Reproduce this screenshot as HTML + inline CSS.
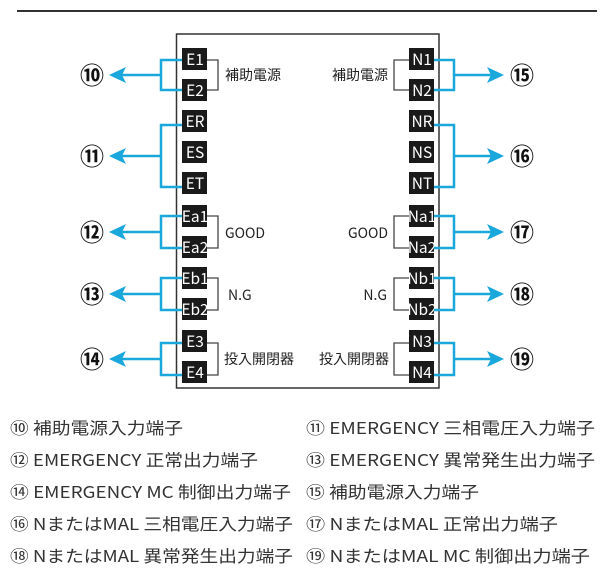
<!DOCTYPE html>
<html><head><meta charset="utf-8"><style>
html,body{margin:0;padding:0;background:#fff;}
svg{display:block;}
text{font-family:"Noto Sans CJK JP","Liberation Sans",sans-serif;}
.t{fill:#fff;font-size:15.5px;text-anchor:middle;font-family:"Liberation Sans",sans-serif;}
.l{fill:#222;font-size:14px;}
.c{fill:#111;font-size:24px;text-anchor:middle;font-weight:bold;}
.g{font-size:16.5px;fill:#333;}
</style></head><body>
<svg width="613" height="578" viewBox="0 0 613 578" xmlns="http://www.w3.org/2000/svg">
<line x1="17" y1="11" x2="597" y2="11" stroke="#333" stroke-width="2"/>
<rect x="176.5" y="34" width="262.5" height="354" fill="none" stroke="#333" stroke-width="1.5"/>
<g fill="#1a1a1a">
<rect x="182" y="48" width="25" height="22"/><rect x="182" y="79" width="25" height="22"/>
<rect x="182" y="110" width="25" height="22"/><rect x="182" y="141" width="25" height="22"/><rect x="182" y="172" width="25" height="22"/>
<rect x="182" y="205" width="25" height="22"/><rect x="182" y="236" width="25" height="22"/>
<rect x="182" y="267" width="25" height="22"/><rect x="182" y="298" width="25" height="22"/>
<rect x="182" y="330" width="25" height="22"/><rect x="182" y="361" width="25" height="22"/>
<rect x="409" y="48" width="25" height="22"/><rect x="409" y="79" width="25" height="22"/>
<rect x="409" y="110" width="25" height="22"/><rect x="409" y="141" width="25" height="22"/><rect x="409" y="172" width="25" height="22"/>
<rect x="409" y="205" width="25" height="22"/><rect x="409" y="236" width="25" height="22"/>
<rect x="409" y="267" width="25" height="22"/><rect x="409" y="298" width="25" height="22"/>
<rect x="409" y="330" width="25" height="22"/><rect x="409" y="361" width="25" height="22"/>
</g>
<g class="t">
<text x="195" y="65">E1</text><text x="195" y="96">E2</text><text x="195" y="127">ER</text><text x="195" y="158">ES</text><text x="195" y="189">ET</text>
<text x="195" y="222">Ea1</text><text x="195" y="253">Ea2</text><text x="195" y="284">Eb1</text><text x="195" y="315">Eb2</text>
<text x="195" y="347">E3</text><text x="195" y="378">E4</text>
<text x="422" y="65">N1</text><text x="422" y="96">N2</text><text x="422" y="127">NR</text><text x="422" y="158">NS</text><text x="422" y="189">NT</text>
<text x="422" y="222">Na1</text><text x="422" y="253">Na2</text><text x="422" y="284">Nb1</text><text x="422" y="315">Nb2</text>
<text x="422" y="347">N3</text><text x="422" y="378">N4</text>
</g>
<g fill="none" stroke="#444" stroke-width="1.3">
<path d="M207 60H218V90H207"/><path d="M207 216H218V248H207"/><path d="M207 278H218V310H207"/><path d="M207 343H218V375H207"/>
<path d="M409 60H394V90H409"/><path d="M409 216H394V248H409"/><path d="M409 278H394V310H409"/><path d="M409 343H394V375H409"/>
</g>
<g fill="none" stroke="#1aa7dc" stroke-width="2.5">
<path d="M182 60H161V90H182M161 75H120"/>
<path d="M182 125H161V187H182M161 156H120"/>
<path d="M182 216H161V248H182M161 232H120"/>
<path d="M182 278H161V310H182M161 294H120"/>
<path d="M182 343H161V375H182M161 359H120"/>
<path d="M434 60H454V90H434M454 75H494"/>
<path d="M434 125H454V187H434M454 156H494"/>
<path d="M434 216H454V248H434M454 232H494"/>
<path d="M434 278H454V310H434M454 294H494"/>
<path d="M434 343H454V375H434M454 359H494"/>
</g>
<g fill="#1aa7dc">
<path d="M109 75L126 67L122 75L126 83Z"/><path d="M109 156L126 148L122 156L126 164Z"/><path d="M109 232L126 224L122 232L126 240Z"/><path d="M109 294L126 286L122 294L126 302Z"/><path d="M109 359L126 351L122 359L126 367Z"/>
<path d="M504 75L487 67L491 75L487 83Z"/><path d="M504 156L487 148L491 156L487 164Z"/><path d="M504 232L487 224L491 232L487 240Z"/><path d="M504 294L487 286L491 294L487 302Z"/><path d="M504 359L487 351L491 359L487 367Z"/>
</g>
<g class="c">
<text x="92" y="84">⑩</text><text x="92" y="165">⑪</text><text x="92" y="241">⑫</text><text x="92" y="303">⑬</text><text x="92" y="368">⑭</text>
<text x="522" y="84">⑮</text><text x="522" y="165">⑯</text><text x="522" y="241">⑰</text><text x="522" y="303">⑱</text><text x="522" y="368">⑲</text>
</g>
<g class="l">
<text x="225" y="80">補助電源</text><text x="225" y="238">GOOD</text><text x="228" y="300">N.G</text><text x="224" y="364">投入開閉器</text>
<text x="388" y="80" text-anchor="end">補助電源</text><text x="388" y="238" text-anchor="end">GOOD</text><text x="387" y="300" text-anchor="end">N.G</text><text x="389" y="364" text-anchor="end">投入開閉器</text>
</g>
<g class="g" lengthAdjust="spacingAndGlyphs">
<text x="10" y="434" textLength="173" lengthAdjust="spacingAndGlyphs">⑩ 補助電源入力端子</text>
<text x="10" y="466" textLength="248" lengthAdjust="spacingAndGlyphs">⑫ EMERGENCY 正常出力端子</text>
<text x="10" y="498" textLength="281" lengthAdjust="spacingAndGlyphs">⑭ EMERGENCY MC 制御出力端子</text>
<text x="10" y="530" textLength="283" lengthAdjust="spacingAndGlyphs">⑯ NまたはMAL 三相電圧入力端子</text>
<text x="10" y="562" textLength="283" lengthAdjust="spacingAndGlyphs">⑱ NまたはMAL 異常発生出力端子</text>
<text x="306" y="434" textLength="289" lengthAdjust="spacingAndGlyphs">⑪ EMERGENCY 三相電圧入力端子</text>
<text x="306" y="466" textLength="289" lengthAdjust="spacingAndGlyphs">⑬ EMERGENCY 異常発生出力端子</text>
<text x="306" y="498" textLength="173" lengthAdjust="spacingAndGlyphs">⑮ 補助電源入力端子</text>
<text x="306" y="530" textLength="252" lengthAdjust="spacingAndGlyphs">⑰ NまたはMAL 正常出力端子</text>
<text x="306" y="562" textLength="284" lengthAdjust="spacingAndGlyphs">⑲ NまたはMAL MC 制御出力端子</text>
</g>
</svg>
</body></html>
